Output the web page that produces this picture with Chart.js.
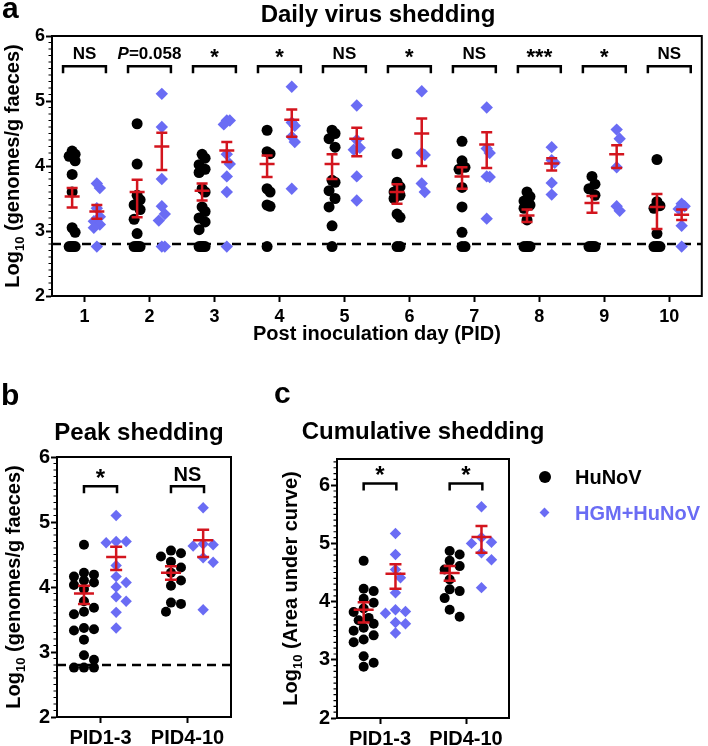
<!DOCTYPE html>
<html>
<head>
<meta charset="utf-8">
<script src="https://cdn.jsdelivr.net/npm/chart.js@4.4.1/dist/chart.umd.min.js"></script>
<style>
  html, body { margin: 0; padding: 0; background: #fff; }
  body { position: relative; width: 708px; height: 746px; overflow: hidden;
         font-family: "Liberation Sans", Arial, sans-serif; }
  canvas { position: absolute; }
  .leg { position: absolute; font: bold 20px "Liberation Sans", Arial, sans-serif; line-height: 20px; white-space: nowrap; }
  .dot { position: absolute; width: 12px; height: 12px; border-radius: 50%; background: #000; }
  .dia { position: absolute; width: 7px; height: 7px; background: #6a6cf4; transform: rotate(45deg); }
</style>
</head>
<body>
<canvas id="daily" width="708" height="350" style="left:0;top:0"></canvas>
<canvas id="peak" width="250" height="366" style="left:0;top:380px"></canvas>
<canvas id="cumul" width="448" height="366" style="left:260px;top:380px"></canvas>

<div class="dot" style="left:539px;top:471px"></div>
<div class="leg" style="left:575px;top:467px;color:#000">HuNoV</div>
<div class="dia" style="left:541px;top:509px"></div>
<div class="leg" style="left:575px;top:503px;color:#6a6cf4">HGM+HuNoV</div>

<script>
// ---------------------------------------------------------------------------
// Data (log10 values)
// ---------------------------------------------------------------------------
const DAYS = [1, 2, 3, 4, 5, 6, 7, 8, 9, 10];
const Y_TICKS = [2, 3, 4, 5, 6];
const LOD = 2.8;

// Daily shedding, one list per day
const huDaily = [
  [4.23, 4.18, 4.15, 4.08, 3.87, 3.6, 3.05, 2.98, 2.76, 2.76, 2.76, 2.76, 2.76, 2.76],
  [4.65, 4.03, 3.55, 3.48, 3.4, 3.33, 3.18, 2.96, 2.76, 2.76, 2.76, 2.76, 2.76, 2.76],
  [4.18, 4.12, 4.02, 3.95, 3.9, 3.65, 3.6, 3.37, 3.3, 3.2, 3.14, 3.02, 2.76, 2.76, 2.76, 2.76, 2.76, 2.76],
  [4.55, 4.22, 4.19, 3.65, 3.6, 3.4, 3.38, 2.76],
  [4.55, 4.5, 4.42, 4.29, 3.78, 3.75, 3.62, 3.5, 3.37, 3.08, 2.76],
  [4.19, 3.75, 3.68, 3.6, 3.55, 3.5, 3.26, 3.21, 2.76, 2.76],
  [4.38, 4.08, 3.98, 3.95, 3.67, 3.37, 2.98, 2.76, 2.76],
  [3.6, 3.53, 3.46, 3.4, 3.35, 3.17, 2.76, 2.76, 2.76, 2.76],
  [3.84, 3.72, 3.65, 3.55, 2.76, 2.76, 2.76, 2.76, 2.76],
  [4.1, 3.45, 3.39, 3.35, 2.96, 2.76, 2.76, 2.76, 2.76],
];
const hgmDaily = [
  [3.73, 3.66, 3.35, 3.22, 3.15, 3.1, 3.05, 2.76],
  [5.11, 4.6, 3.8, 3.38, 3.26, 3.16, 2.76, 2.76],
  [4.7, 4.7, 4.64, 4.18, 4.03, 3.84, 3.6, 2.76],
  [5.22, 4.67, 4.62, 4.45, 4.37, 3.65],
  [4.93, 4.4, 4.28, 4.25, 3.84, 3.47],
  [5.15, 4.2, 4.17, 3.73, 3.6],
  [4.9, 4.27, 4.2, 3.84, 3.83, 3.19],
  [4.29, 4.09, 4.05, 3.74, 3.56],
  [4.56, 4.42, 3.98, 3.38, 3.31],
  [3.42, 3.38, 3.34, 3.08, 2.76],
];
// mean and SEM limits as drawn
const huDailyMean = [3.53, 3.6, 3.62, 4.03, 4.03, 3.6, 3.84, 3.24, 3.43, 3.37];
const huDailyLo   = [3.36, 3.21, 3.47, 3.83, 3.8, 3.42, 3.65, 3.14, 3.28, 3.03];
const huDailyHi   = [3.66, 3.79, 3.73, 4.16, 4.18, 3.72, 3.98, 3.33, 3.54, 3.57];
const hgmDailyMean = [3.3, 4.3, 4.24, 4.71, 4.42, 4.5, 4.33, 4.04, 4.18, 3.25];
const hgmDailyLo   = [3.19, 3.94, 4.06, 4.45, 4.15, 4.0, 3.97, 3.93, 3.97, 3.17];
const hgmDailyHi   = [3.4, 4.51, 4.37, 4.87, 4.59, 4.73, 4.52, 4.12, 4.32, 3.33];
const dailySig = ['NS', 'P=0.058', '*', '*', 'NS', '*', 'NS', '***', '*', 'NS'];

// Peak / cumulative shedding
const PERIODS = ['PID1-3', 'PID4-10'];

const huPeak = [
  [4.65, 4.22, 4.19, 4.16, 4.1, 4.07, 4.03, 3.97, 3.78, 3.68, 3.62, 3.58, 3.37, 3.35, 3.33, 3.19, 2.95, 2.88, 2.76, 2.76, 2.76],
  [4.56, 4.52, 4.47, 4.39, 4.3, 4.22, 4.1, 4.02, 3.76, 3.74, 3.62],
];
const hgmPeak = [
  [5.1, 4.7, 4.7, 4.68, 4.33, 4.16, 4.07, 4.0, 3.85, 3.78, 3.61, 3.37],
  [5.22, 4.66, 4.65, 4.63, 4.45, 4.38, 3.65],
];
const huPeakMean = [3.9, 4.22];
const huPeakLo   = [3.74, 4.11];
const huPeakHi   = [4.02, 4.32];
const hgmPeakMean = [4.46, 4.72];
const hgmPeakLo   = [4.26, 4.46];
const hgmPeakHi   = [4.62, 4.88];
const peakSig = ['*', 'NS'];

const huCum = [
  [4.7, 4.22, 4.18, 4.05, 3.98, 3.88, 3.82, 3.72, 3.68, 3.62, 3.55, 3.5, 3.42, 3.35, 3.3, 3.06, 2.95, 2.88],
  [4.87, 4.81, 4.7, 4.61, 4.55, 4.38, 4.21, 4.18, 4.06, 3.86, 3.74],
];
const hgmCum = [
  [5.17, 4.81, 4.55, 4.41, 4.15, 3.86, 3.83, 3.8, 3.64, 3.62, 3.46],
  [5.63, 5.1, 5.02, 5.0, 4.84, 4.72, 4.24],
];
const huCumMean = [3.86, 4.49];
const huCumLo   = [3.64, 4.36];
const huCumHi   = [3.99, 4.61];
const hgmCumMean = [4.48, 5.11];
const hgmCumLo   = [4.22, 4.84];
const hgmCumHi   = [4.64, 5.3];
const cumSig = ['*', '*'];

// ---------------------------------------------------------------------------
// Styling
// ---------------------------------------------------------------------------
const BLACK = '#000000';
const BLUE = '#6a6cf4';
const RED = '#d3151e';
const FONT = '"Liberation Sans", Arial, sans-serif';

// Spread overlapping points sideways (simple beeswarm, in pixels)
function swarm(values, center, pxX, pxY, r, step, maxK) {
  const order = values.map((v, i) => i).sort((a, b) => values[b] - values[a]);
  const cands = [0];
  for (let k = 1; k <= maxK; k++) cands.push(k, -k);
  const placed = [];
  order.forEach((i) => {
    const v = values[i];
    let best = 0, bestD = -1;
    for (const k of cands) {
      const dx = k * step;
      let dmin = Infinity;
      placed.forEach((p) => {
        const d = Math.hypot(p.dx - dx, (p.v - v) * pxY);
        if (d < dmin) dmin = d;
      });
      if (dmin >= 1.9 * r) { best = dx; break; }
      if (dmin > bestD) { bestD = dmin; best = dx; }
    }
    placed.push({ v, dx: best });
  });
  return placed.map((p) => ({ x: center + p.dx / pxX, y: p.v }));
}

function drawSig(ctx, text, x, y, cfg) {
  ctx.fillStyle = BLACK;
  ctx.textBaseline = 'alphabetic';
  if (/^\*+$/.test(text)) {
    ctx.font = `bold ${cfg.starFont}px ${FONT}`;
    ctx.textAlign = 'center';
    ctx.fillText(text, x, y + cfg.starDrop);
    return;
  }
  ctx.font = `bold ${cfg.sigFont}px ${FONT}`;
  if (text.startsWith('P=')) {
    const rest = text.slice(1);
    ctx.font = `italic bold ${cfg.sigFont}px ${FONT}`;
    const wP = ctx.measureText('P').width;
    ctx.font = `bold ${cfg.sigFont}px ${FONT}`;
    const wR = ctx.measureText(rest).width;
    const x0 = x - (wP + wR) / 2;
    ctx.textAlign = 'left';
    ctx.font = `italic bold ${cfg.sigFont}px ${FONT}`;
    ctx.fillText('P', x0, y);
    ctx.font = `bold ${cfg.sigFont}px ${FONT}`;
    ctx.fillText(rest, x0 + wP, y);
    return;
  }
  ctx.textAlign = 'center';
  ctx.fillText(text, x, y);
}

function decorPlugin(cfg) {
  return {
    id: 'decor',
    beforeDatasetsDraw(chart) {
      if (cfg.lod == null) return;
      const { ctx, chartArea: a, scales: { y } } = chart;
      const py = y.getPixelForValue(cfg.lod);
      ctx.save();
      ctx.strokeStyle = BLACK;
      ctx.lineWidth = 2.5;
      ctx.setLineDash([9, 6]);
      ctx.beginPath();
      ctx.moveTo(a.left, py);
      ctx.lineTo(a.right, py);
      ctx.stroke();
      ctx.restore();
    },
    afterDatasetsDraw(chart) {
      const { ctx, scales: { x, y } } = chart;
      ctx.save();
      // mean +/- SEM
      ctx.strokeStyle = RED;
      ctx.lineWidth = 2.5;
      cfg.bars.forEach((g) => {
        g.mean.forEach((m, i) => {
          const px = x.getPixelForValue(cfg.cats[i] + g.off);
          const ym = y.getPixelForValue(m);
          const yl = y.getPixelForValue(g.lo[i]);
          const yh = y.getPixelForValue(g.hi[i]);
          ctx.beginPath();
          ctx.moveTo(px, yh); ctx.lineTo(px, yl);
          ctx.moveTo(px - cfg.capW, yh); ctx.lineTo(px + cfg.capW, yh);
          ctx.moveTo(px - cfg.capW, yl); ctx.lineTo(px + cfg.capW, yl);
          ctx.moveTo(px - cfg.meanW, ym); ctx.lineTo(px + cfg.meanW, ym);
          ctx.stroke();
        });
      });
      // significance brackets
      ctx.strokeStyle = BLACK;
      ctx.lineWidth = 2.5;
      cfg.sig.forEach((s, i) => {
        const x1 = x.getPixelForValue(cfg.cats[i] - cfg.brHalf);
        const x2 = x.getPixelForValue(cfg.cats[i] + cfg.brHalf);
        const yt = y.getPixelForValue(cfg.brY);
        ctx.beginPath();
        ctx.moveTo(x1, yt + cfg.brLeg);
        ctx.lineTo(x1, yt);
        ctx.lineTo(x2, yt);
        ctx.lineTo(x2, yt + cfg.brLeg);
        ctx.stroke();
        drawSig(ctx, s, (x1 + x2) / 2, yt - cfg.sigGap, cfg);
      });
      ctx.restore();
    },
    afterDraw(chart) {
      const { ctx, chartArea: a, scales: { y } } = chart;
      ctx.save();
      // frame
      ctx.strokeStyle = BLACK;
      ctx.lineWidth = 2;
      ctx.strokeRect(a.left, a.top, a.right - a.left, a.bottom - a.top);
      // minor ticks on y
      ctx.lineWidth = 1.2;
      ctx.beginPath();
      for (let v = y.min; v <= y.max + 1e-9; v += 0.1) {
        const r = Math.round(v * 10) / 10;
        if (Math.abs(r - Math.round(r)) < 1e-6) continue;
        const py = y.getPixelForValue(r);
        ctx.moveTo(a.left - 3.5, py);
        ctx.lineTo(a.left, py);
      }
      ctx.stroke();
      // panel letter
      ctx.fillStyle = BLACK;
      ctx.textBaseline = 'alphabetic';
      ctx.textAlign = 'left';
      ctx.font = `bold 30px ${FONT}`;
      ctx.fillText(cfg.letter, cfg.letterX, cfg.letterY);
      // title
      ctx.textAlign = 'center';
      ctx.font = `bold 24px ${FONT}`;
      ctx.fillText(cfg.title, cfg.titleX, cfg.titleY);
      // x title
      if (cfg.xTitle) {
        ctx.font = `bold 20px ${FONT}`;
        ctx.fillText(cfg.xTitle, (a.left + a.right) / 2, cfg.xTitleY);
      }
      // y title with subscript
      ctx.translate(cfg.yTitleX, (a.top + a.bottom) / 2);
      ctx.rotate(-Math.PI / 2);
      ctx.textAlign = 'left';
      ctx.font = `bold 20px ${FONT}`;
      const w1 = ctx.measureText('Log').width;
      const w3 = ctx.measureText(cfg.yTitle).width;
      ctx.font = `bold 13px ${FONT}`;
      const w2 = ctx.measureText('10').width;
      let sx = -(w1 + w2 + w3) / 2;
      ctx.font = `bold 20px ${FONT}`;
      ctx.fillText('Log', sx, 0);
      ctx.font = `bold 13px ${FONT}`;
      ctx.fillText('10', sx + w1, 5);
      ctx.font = `bold 20px ${FONT}`;
      ctx.fillText(cfg.yTitle, sx + w1 + w2, 0);
      ctx.restore();
    },
  };
}

function buildPanel(canvasId, cfg) {
  const canvas = document.getElementById(canvasId);
  const W = canvas.width, H = canvas.height;
  const a = cfg.area;

  const huPts = [], hgmPts = [];
  cfg.hu.forEach((vals, i) => huPts.push(...swarm(vals, cfg.cats[i] + cfg.offHu, cfg.pxX, cfg.pxY, cfg.r, cfg.step, cfg.maxK)));
  cfg.hgm.forEach((vals, i) => hgmPts.push(...swarm(vals, cfg.cats[i] + cfg.offHgm, cfg.pxX, cfg.pxY, cfg.r, cfg.step, cfg.maxK)));

  const axisCommon = {
    grid: { display: true, drawOnChartArea: false, drawTicks: true, tickLength: 6, tickWidth: 2, tickColor: BLACK },
    border: { display: true, width: 2, color: BLACK },
  };

  return new Chart(canvas, {
    type: 'scatter',
    data: {
      datasets: [
        { label: 'HuNoV', data: huPts, pointStyle: 'circle', pointRadius: cfg.r,
          backgroundColor: BLACK, borderColor: BLACK, borderWidth: 0 },
        { label: 'HGM+HuNoV', data: hgmPts, pointStyle: 'rectRot', pointRadius: cfg.r + 0.7,
          backgroundColor: BLUE, borderColor: BLUE, borderWidth: 0 },
      ],
    },
    options: {
      responsive: false,
      animation: false,
      events: [],
      layout: { padding: { left: 0, top: a.top, right: W - a.right, bottom: 0 } },
      plugins: { legend: { display: false }, tooltip: { enabled: false }, title: { display: false } },
      scales: {
        x: {
          ...axisCommon,
          type: 'linear',
          min: cfg.xMin,
          max: cfg.xMax,
          afterBuildTicks: (s) => { s.ticks = cfg.cats.map((v) => ({ value: v })); },
          afterFit: (s) => { s.height = H - a.bottom; },
          ticks: {
            autoSkip: false, maxRotation: 0, padding: cfg.xTickPad, color: BLACK,
            font: { family: FONT, size: cfg.tickFont, weight: 'bold' },
            callback: (v, i) => cfg.catLabels[i],
          },
        },
        y: {
          ...axisCommon,
          min: cfg.yMin,
          max: cfg.yMax,
          afterBuildTicks: (s) => { s.ticks = Y_TICKS.map((v) => ({ value: v })); },
          afterFit: (s) => { s.width = a.left; },
          ticks: {
            padding: 1, color: BLACK,
            font: { family: FONT, size: cfg.tickFont, weight: 'bold' },
            callback: (v) => String(v),
          },
        },
      },
    },
    plugins: [decorPlugin(cfg)],
  });
}

// a: daily shedding
buildPanel('daily', {
  area: { left: 52, top: 36, right: 703, bottom: 296 },
  cats: DAYS, catLabels: DAYS.map(String),
  xMin: 0.5, xMax: 10.5, yMin: 2, yMax: 6,
  hu: huDaily, hgm: hgmDaily, offHu: -0.19, offHgm: 0.19,
  pxX: 65, pxY: 65, r: 5.5, step: 3, maxK: 1,
  bars: [
    { off: -0.19, mean: huDailyMean, lo: huDailyLo, hi: huDailyHi },
    { off: 0.19, mean: hgmDailyMean, lo: hgmDailyLo, hi: hgmDailyHi },
  ],
  capW: 5.5, meanW: 7.5,
  sig: dailySig, brHalf: 0.33, brY: 5.535, brLeg: 7, sigGap: 7,
  sigFont: 17, starFont: 22, starDrop: 5,
  lod: LOD, tickFont: 18, xTickPad: 4,
  letter: 'a', letterX: 2, letterY: 18,
  title: 'Daily virus shedding', titleX: 378, titleY: 22,
  xTitle: 'Post inoculation day (PID)', xTitleY: 340,
  yTitle: ' (genomes/g faeces)', yTitleX: 19,
});

// b: peak shedding
buildPanel('peak', {
  area: { left: 57, top: 77, right: 231, bottom: 337 },
  cats: [0, 1], catLabels: PERIODS,
  xMin: -0.5, xMax: 1.5, yMin: 2, yMax: 6,
  hu: huPeak, hgm: hgmPeak, offHu: -0.19, offHgm: 0.18,
  pxX: 87, pxY: 65, r: 5, step: 5, maxK: 2,
  bars: [
    { off: -0.19, mean: huPeakMean, lo: huPeakLo, hi: huPeakHi },
    { off: 0.18, mean: hgmPeakMean, lo: hgmPeakLo, hi: hgmPeakHi },
  ],
  capW: 6, meanW: 10,
  sig: peakSig, brHalf: 0.19, brY: 5.55, brLeg: 7, sigGap: 5,
  sigFont: 20, starFont: 24, starDrop: 5,
  lod: LOD, tickFont: 20, xTickPad: 3,
  letter: 'b', letterX: 1, letterY: 25,
  title: 'Peak shedding', titleX: 139, titleY: 60,
  yTitle: ' (genomes/g faeces)', yTitleX: 20,
});

// c: cumulative shedding
buildPanel('cumul', {
  area: { left: 77, top: 79, right: 249, bottom: 338 },
  cats: [0, 1], catLabels: PERIODS,
  xMin: -0.5, xMax: 1.5, yMin: 2, yMax: 6.45,
  hu: huCum, hgm: hgmCum, offHu: -0.19, offHgm: 0.18,
  pxX: 86, pxY: 58, r: 5, step: 5, maxK: 2,
  bars: [
    { off: -0.19, mean: huCumMean, lo: huCumLo, hi: huCumHi },
    { off: 0.18, mean: hgmCumMean, lo: hgmCumLo, hi: hgmCumHi },
  ],
  capW: 6, meanW: 10,
  sig: cumSig, brHalf: 0.19, brY: 6.03, brLeg: 7, sigGap: 5,
  sigFont: 20, starFont: 24, starDrop: 5,
  lod: null, tickFont: 20, xTickPad: 3,
  letter: 'c', letterX: 14, letterY: 23,
  title: 'Cumulative shedding', titleX: 163, titleY: 59,
  yTitle: ' (Area under curve)', yTitleX: 37,
});
</script>
</body>
</html>
